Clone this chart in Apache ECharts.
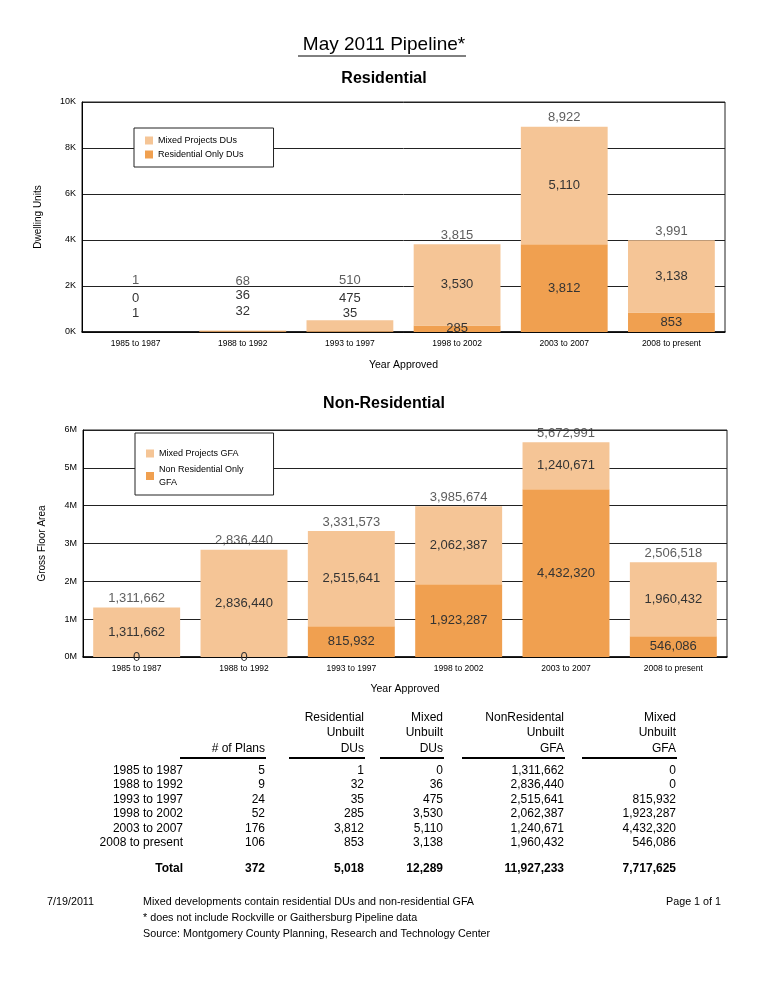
<!DOCTYPE html>
<html>
<head>
<meta charset="utf-8">
<script src="https://cdn.jsdelivr.net/npm/echarts@6/dist/echarts.min.js"></script>
<style>
html,body{margin:0;padding:0;background:#fff;}
#c{width:768px;height:994px;}
</style>
</head>
<body>
<div id="c"></div>
<script>
// ---- data ----
const categories = ['1985 to 1987','1988 to 1992','1993 to 1997','1998 to 2002','2003 to 2007','2008 to present'];
const plans = [5, 9, 24, 52, 176, 106];
const resOnlyDU = [1, 32, 35, 285, 3812, 853];          // Residential Only DUs (dark)
const mixedDU = [0, 36, 475, 3530, 5110, 3138];         // Mixed Projects DUs (light)
const gfaLight = [1311662, 2836440, 2515641, 2062387, 1240671, 1960432]; // "Mixed Projects GFA" in chart / NonResidental Unbuilt GFA in table
const gfaDark = [0, 0, 815932, 1923287, 4432320, 546086];                // "Non Residential Only GFA" in chart / Mixed Unbuilt GFA in table
const resTicks = {min: 0, max: 10000, interval: 2000};
const gfaTicks = {min: 0, max: 6000000, interval: 1000000};

// ---- styles ----
const FONT = 'Liberation Sans, Arial, sans-serif';
const LIGHT = '#F5C596';
const DARK = '#F0A050';
const fmt = v => Number(v).toLocaleString('en-US');

const resTotal = resOnlyDU.map((v, i) => v + mixedDU[i]);
const gfaTotal = gfaLight.map((v, i) => v + gfaDark[i]);

// label offsets for tiny residential bars (styling only)
const resDarkOff = [[0,-19],[0,-20],[0,-18]];
const resLightOff = [[0,-34],[0,-35],[0,-27]];
const resTotOff = [[0,-43],[0,-40],[0,-31]];
function withOff(arr, offs) {
  return arr.map((v, i) => offs[i] ? {value: v, label: {offset: offs[i]}} : v);
}

const chart = echarts.init(document.getElementById('c'), null, {renderer: 'canvas'});

const barLabel = {show: true, position: 'inside', color: '#333', fontSize: 13, fontFamily: FONT, formatter: p => fmt(p.value)};
const totLabel = {show: true, position: 'top', distance: 2, color: '#333', fontSize: 13, fontFamily: FONT, formatter: p => fmt(p.value)};

function xAxis(gi, gap) {
  return {
    type: 'category', gridIndex: gi, data: categories,
    axisTick: {show: false},
    axisLine: {lineStyle: {color: '#000', width: 1.5}},
    axisLabel: {interval: 0, fontSize: 8.5, color: '#000', fontFamily: FONT, margin: 7},
    name: 'Year Approved', nameLocation: 'middle', nameGap: gap,
    nameTextStyle: {fontSize: 10.5, color: '#000', fontFamily: FONT}
  };
}
function yAxis(gi, t, name, unit, div, gap) {
  return {
    type: 'value', gridIndex: gi, min: t.min, max: t.max, interval: t.interval,
    axisLine: {show: true, lineStyle: {color: '#000', width: 1}},
    axisTick: {show: false},
    splitLine: {show: true, lineStyle: {color: '#222', width: 1}},
    axisLabel: {fontSize: 9, color: '#000', fontFamily: FONT, margin: 6, formatter: v => (v / div) + unit},
    name: name, nameLocation: 'middle', nameGap: gap, nameRotate: 90,
    nameTextStyle: {fontSize: 10, color: '#000', fontFamily: FONT}
  };
}

// ---- table graphics ----
const g = [];
function txt(x, y, s, opts) {
  opts = opts || {};
  g.push({type: 'text', x: x, y: y, silent: true, style: Object.assign({
    text: s, fill: '#000', fontSize: 11, fontFamily: FONT,
    align: opts.align || 'left', textAlign: opts.align || 'left',
    verticalAlign: 'middle', textVerticalAlign: 'middle', fontWeight: opts.bold ? 'bold' : 'normal'
  }, opts.font ? {fontSize: opts.font} : {})});
}
function hline(x1, x2, y, w) {
  g.push({type: 'line', silent: true, shape: {x1: x1, y1: y, x2: x2, y2: y}, style: {stroke: '#000', lineWidth: w}});
}
// titles
txt(384, 45, 'May 2011 Pipeline*', {align: 'center', font: 19});
hline(298, 466, 56, 1);
txt(384, 79, 'Residential', {align: 'center', font: 16, bold: true});
txt(384, 404, 'Non-Residential', {align: 'center', font: 16, bold: true});

// table
const colRight = [265, 364, 443, 564, 676];
const headers = [
  ['', '', '# of Plans'],
  ['Residential', 'Unbuilt', 'DUs'],
  ['Mixed', 'Unbuilt', 'DUs'],
  ['NonResidental', 'Unbuilt', 'GFA'],
  ['Mixed', 'Unbuilt', 'GFA']
];
const headY = [718, 733, 749];
const lineL = [180, 289, 380, 462, 582];
headers.forEach((h, c) => {
  h.forEach((s, r) => { if (s) txt(colRight[c], headY[r], s, {align: 'right', font: 12}); });
  hline(lineL[c], colRight[c] + 1, 758, 2);
});
const cols = [plans, resOnlyDU, mixedDU, gfaLight, gfaDark];
const rowY = [771, 785, 800, 814, 829, 843];
categories.forEach((cat, i) => {
  txt(183, rowY[i], cat, {align: 'right', font: 12});
  cols.forEach((col, c) => txt(colRight[c], rowY[i], fmt(col[i]), {align: 'right', font: 12}));
});
txt(183, 869, 'Total', {align: 'right', font: 12, bold: true});
cols.forEach((col, c) => txt(colRight[c], 869, fmt(col.reduce((a, b) => a + b, 0)), {align: 'right', font: 12, bold: true}));

// footer
txt(47, 902, '7/19/2011', {font: 10.75});
txt(143, 902, 'Mixed developments contain residential DUs and non-residential GFA', {font: 10.75});
txt(143, 918, '* does not include Rockville or Gaithersburg Pipeline data', {font: 10.75});
txt(143, 934, 'Source: Montgomery County Planning, Research and Technology Center', {font: 10.75});
txt(721, 902, 'Page 1 of 1', {align: 'right', font: 10.75});

const legendCommon = {
  orient: 'vertical', icon: 'rect', itemWidth: 8, itemHeight: 8,
  borderColor: '#222', borderWidth: 1, backgroundColor: '#fff',
  textStyle: {fontSize: 9, color: '#000', fontFamily: FONT},
  selectedMode: false
};

const option = {
  animation: false,
  backgroundColor: '#fff',
  grid: [
    {left: 82, right: 43, top: 102, height: 230, show: true, borderColor: '#222', borderWidth: 1, backgroundColor: 'transparent'},
    {left: 83, right: 41, top: 430, height: 227, show: true, borderColor: '#222', borderWidth: 1, backgroundColor: 'transparent'}
  ],
  legend: [
    Object.assign({}, legendCommon, {left: 134, top: 128, itemGap: 5, padding: [8, 30, 8, 11],
      data: ['Mixed Projects DUs', 'Residential Only DUs']}),
    Object.assign({}, legendCommon, {left: 135, top: 433, itemGap: 3, padding: [14, 30, 6, 11],
      data: ['Mixed Projects GFA', 'Non Residential Only GFA'],
      formatter: n => n === 'Non Residential Only GFA' ? 'Non Residential Only\nGFA' : n,
      textStyle: {fontSize: 9, color: '#000', fontFamily: FONT, lineHeight: 13}})
  ],
  xAxis: [xAxis(0, 28), xAxis(1, 27)],
  yAxis: [yAxis(0, resTicks, 'Dwelling Units', 'K', 1000, 39), yAxis(1, gfaTicks, 'Gross Floor Area', 'M', 1000000, 36)],
  series: [
    {name: 'Residential Only DUs', type: 'bar', stack: 'r', xAxisIndex: 0, yAxisIndex: 0, barWidth: '81%',
      itemStyle: {color: DARK}, label: barLabel, data: withOff(resOnlyDU, resDarkOff)},
    {name: 'Mixed Projects DUs', type: 'bar', stack: 'r', xAxisIndex: 0, yAxisIndex: 0, barWidth: '81%',
      itemStyle: {color: LIGHT}, label: barLabel, data: withOff(mixedDU, resLightOff)},
    {name: 'resTotal', type: 'scatter', xAxisIndex: 0, yAxisIndex: 0, symbolSize: 1,
      itemStyle: {color: 'rgba(0,0,0,0)'}, label: totLabel, data: withOff(resTotal, resTotOff)},
    {name: 'Non Residential Only GFA', type: 'bar', stack: 'n', xAxisIndex: 1, yAxisIndex: 1, barWidth: '81%',
      itemStyle: {color: DARK}, label: barLabel, data: gfaDark},
    {name: 'Mixed Projects GFA', type: 'bar', stack: 'n', xAxisIndex: 1, yAxisIndex: 1, barWidth: '81%',
      itemStyle: {color: LIGHT}, label: barLabel, data: gfaLight},
    {name: 'gfaTotal', type: 'scatter', xAxisIndex: 1, yAxisIndex: 1, symbolSize: 1,
      itemStyle: {color: 'rgba(0,0,0,0)'}, label: totLabel, data: gfaTotal}
  ],
  graphic: g
};
chart.setOption(option);
</script>
</body>
</html>
